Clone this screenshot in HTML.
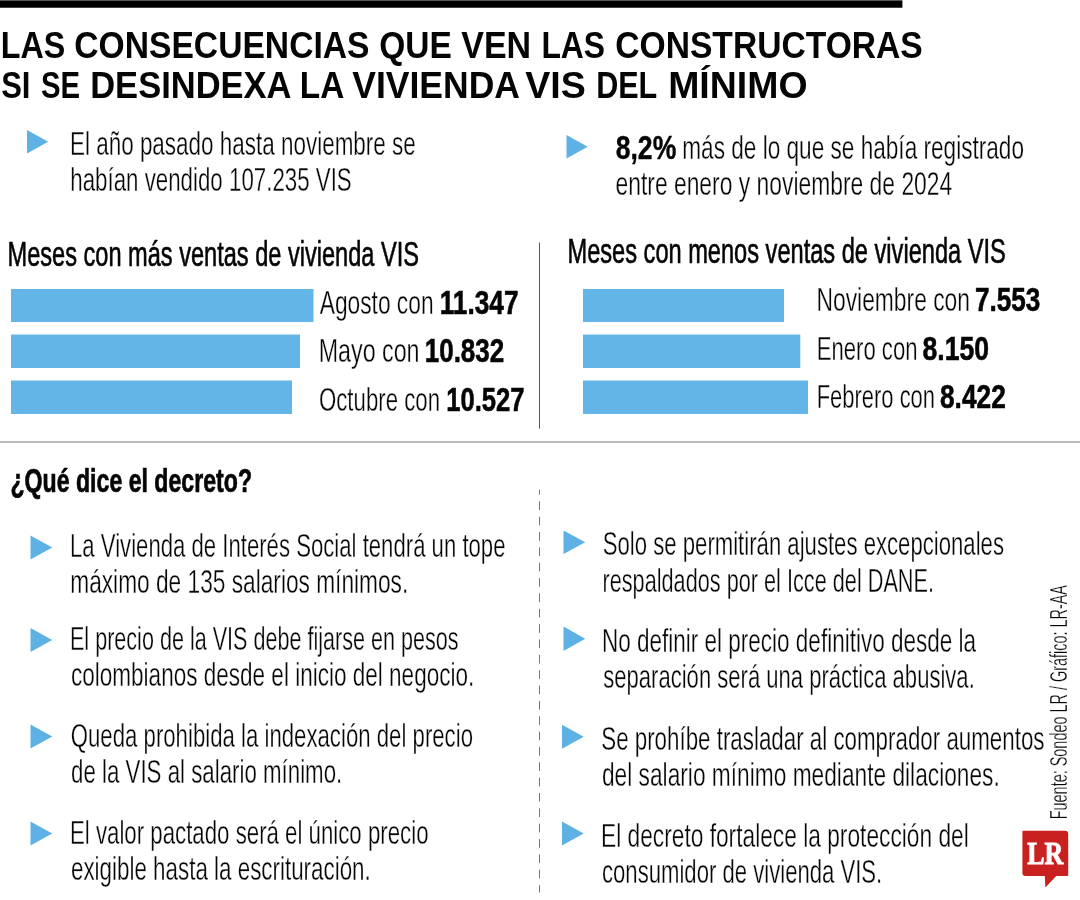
<!DOCTYPE html>
<html lang="es">
<head>
<meta charset="utf-8">
<title>Las consecuencias que ven las constructoras si se desindexa la vivienda VIS del mínimo</title>
<style>
html,body{margin:0;padding:0;background:#fff;}
body{width:1080px;height:900px;overflow:hidden;}
svg{display:block;}
text{font-family:"Liberation Sans",sans-serif;fill:#050505;}
.b{font-weight:700;}
.logo{font-family:"Liberation Serif",serif;font-weight:700;fill:#fff;}
</style>
</head>
<body>
<svg width="1080" height="900" viewBox="0 0 1080 900">
<rect width="1080" height="900" fill="#fff"/>
<rect x="0" y="0.35" width="902.4" height="7.4" fill="#000"/>
<rect x="11" y="289" width="302.5" height="33" fill="#62b5e6"/>
<rect x="11" y="334.5" width="289" height="33.5" fill="#62b5e6"/>
<rect x="11" y="380.5" width="281" height="33.5" fill="#62b5e6"/>
<rect x="583" y="289" width="201" height="33" fill="#62b5e6"/>
<rect x="583" y="334.5" width="217.29999999999995" height="33.5" fill="#62b5e6"/>
<rect x="583" y="380.5" width="225" height="33.5" fill="#62b5e6"/>
<line x1="0" y1="442" x2="1080" y2="442" stroke="#bcbcbc" stroke-width="2"/>
<line x1="539.5" y1="242.5" x2="539.5" y2="428.5" stroke="#555" stroke-width="1"/>
<line x1="539.5" y1="489.7" x2="539.5" y2="892.5" stroke="#666" stroke-width="0.9" stroke-dasharray="8.7 6.65" stroke-dashoffset="3.7"/>
<path d="M27 130L48.2 141.75L27 153.5Z" fill="#5db1e4"/>
<path d="M566.5 135L587.7 146.75L566.5 158.5Z" fill="#5db1e4"/>
<path d="M30.5 535.5L52.2 547.5L30.5 559.5Z" fill="#5db1e4"/>
<path d="M30.5 628L52.2 640.0L30.5 652Z" fill="#5db1e4"/>
<path d="M30.5 724.5L52.2 736.5L30.5 748.5Z" fill="#5db1e4"/>
<path d="M30.5 821.5L52.2 833.5L30.5 845.5Z" fill="#5db1e4"/>
<path d="M563.5 530.5L585.2 542.25L563.5 554Z" fill="#5db1e4"/>
<path d="M563.5 626.5L585.2 638.75L563.5 651Z" fill="#5db1e4"/>
<path d="M562 724.8L583.7 736.8L562 748.8Z" fill="#5db1e4"/>
<path d="M562 821.5L583.7 833.5L562 845.5Z" fill="#5db1e4"/>
<text class="b" x="0.87" y="58.1" font-size="37.3" textLength="64.45" lengthAdjust="spacingAndGlyphs">LAS</text>
<text class="b" x="74.24" y="58.1" font-size="37.3" textLength="295.27" lengthAdjust="spacingAndGlyphs">CONSECUENCIAS</text>
<text class="b" x="379.2" y="58.1" font-size="37.3" textLength="72.6" lengthAdjust="spacingAndGlyphs">QUE</text>
<text class="b" x="461.24" y="58.1" font-size="37.3" textLength="69.85" lengthAdjust="spacingAndGlyphs">VEN</text>
<text class="b" x="541.38" y="58.1" font-size="37.3" textLength="63.69" lengthAdjust="spacingAndGlyphs">LAS</text>
<text class="b" x="615.24" y="58.1" font-size="37.3" textLength="307.53" lengthAdjust="spacingAndGlyphs">CONSTRUCTORAS</text>
<text class="b" x="1.16" y="98" font-size="37.3" textLength="29.32" lengthAdjust="spacingAndGlyphs">SI</text>
<text class="b" x="40.95" y="98" font-size="37.3" textLength="39.1" lengthAdjust="spacingAndGlyphs">SE</text>
<text class="b" x="90.21" y="98" font-size="37.3" textLength="201.3" lengthAdjust="spacingAndGlyphs">DESINDEXA</text>
<text class="b" x="299.85" y="98" font-size="37.3" textLength="44.46" lengthAdjust="spacingAndGlyphs">LA</text>
<text class="b" x="352.25" y="98" font-size="37.3" textLength="167.76" lengthAdjust="spacingAndGlyphs">VIVIENDA</text>
<text class="b" x="525.24" y="98" font-size="37.3" textLength="60.56" lengthAdjust="spacingAndGlyphs">VIS</text>
<text class="b" x="596.15" y="98" font-size="37.3" textLength="61.15" lengthAdjust="spacingAndGlyphs">DEL</text>
<text class="b" x="668.18" y="98" font-size="37.3" textLength="139.36" lengthAdjust="spacingAndGlyphs">MÍNIMO</text>
<text x="69.98" y="154.6" font-size="33.0" textLength="345.78" lengthAdjust="spacingAndGlyphs" stroke="#fff" stroke-width="0.35">El año pasado hasta noviembre se</text>
<text x="70.23" y="190.6" font-size="33.0" textLength="281.53" lengthAdjust="spacingAndGlyphs" stroke="#fff" stroke-width="0.35">habían vendido 107.235 VIS</text>
<text class="b" x="615.73" y="158.9" font-size="34.0" textLength="60.53" lengthAdjust="spacingAndGlyphs" stroke="#050505" stroke-width="0.4">8,2%</text>
<text x="682.24" y="158.9" font-size="34.0" textLength="341.77" lengthAdjust="spacingAndGlyphs" stroke="#fff" stroke-width="0.35">más de lo que se había registrado</text>
<text x="615.49" y="194.9" font-size="34.0" textLength="336.76" lengthAdjust="spacingAndGlyphs" stroke="#fff" stroke-width="0.35">entre enero y noviembre de 2024</text>
<text x="7.49" y="265.5" font-size="34.5" textLength="411.52" lengthAdjust="spacingAndGlyphs" stroke="#050505" stroke-width="0.65">Meses con más ventas de vivienda VIS</text>
<text x="567.49" y="263" font-size="34.5" textLength="438.27" lengthAdjust="spacingAndGlyphs" stroke="#050505" stroke-width="0.65">Meses con menos ventas de vivienda VIS</text>
<text x="319.75" y="314.3" font-size="34.0" textLength="113.78" lengthAdjust="spacingAndGlyphs" stroke="#fff" stroke-width="0.35">Agosto con</text>
<text class="b" x="439.7" y="314.3" font-size="34.0" textLength="78.83" lengthAdjust="spacingAndGlyphs" stroke="#050505" stroke-width="0.6">11.347</text>
<text x="318.68" y="362.4" font-size="34.0" textLength="100.88" lengthAdjust="spacingAndGlyphs" stroke="#fff" stroke-width="0.35">Mayo con</text>
<text class="b" x="424.72" y="362.4" font-size="34.0" textLength="79.55" lengthAdjust="spacingAndGlyphs" stroke="#050505" stroke-width="0.6">10.832</text>
<text x="318.98" y="411.3" font-size="34.0" textLength="121.06" lengthAdjust="spacingAndGlyphs" stroke="#fff" stroke-width="0.35">Octubre con</text>
<text class="b" x="446.21" y="411.3" font-size="34.0" textLength="78.31" lengthAdjust="spacingAndGlyphs" stroke="#050505" stroke-width="0.6">10.527</text>
<text x="816.45" y="311.3" font-size="34.0" textLength="153.58" lengthAdjust="spacingAndGlyphs" stroke="#fff" stroke-width="0.35">Noviembre con</text>
<text class="b" x="974.98" y="311.3" font-size="34.0" textLength="65.29" lengthAdjust="spacingAndGlyphs" stroke="#050505" stroke-width="0.6">7.553</text>
<text x="816.68" y="359.6" font-size="34.0" textLength="100.87" lengthAdjust="spacingAndGlyphs" stroke="#fff" stroke-width="0.35">Enero con</text>
<text class="b" x="922.49" y="359.6" font-size="34.0" textLength="66.53" lengthAdjust="spacingAndGlyphs" stroke="#050505" stroke-width="0.6">8.150</text>
<text x="816.69" y="408.4" font-size="34.0" textLength="118.35" lengthAdjust="spacingAndGlyphs" stroke="#fff" stroke-width="0.35">Febrero con</text>
<text class="b" x="939.99" y="408.4" font-size="34.0" textLength="65.77" lengthAdjust="spacingAndGlyphs" stroke="#050505" stroke-width="0.6">8.422</text>
<text class="b" x="10.49" y="491.7" font-size="32.5" textLength="241.52" lengthAdjust="spacingAndGlyphs" stroke="#050505" stroke-width="0.7">¿Qué dice el decreto?</text>
<text x="69.99" y="556.5" font-size="34.0" textLength="435.52" lengthAdjust="spacingAndGlyphs" stroke="#fff" stroke-width="0.35">La Vivienda de Interés Social tendrá un tope</text>
<text x="70.23" y="592.5" font-size="34.0" textLength="338.05" lengthAdjust="spacingAndGlyphs" stroke="#fff" stroke-width="0.35">máximo de 135 salarios mínimos.</text>
<text x="69.98" y="649.8" font-size="34.0" textLength="388.52" lengthAdjust="spacingAndGlyphs" stroke="#fff" stroke-width="0.35">El precio de la VIS debe fijarse en pesos</text>
<text x="70.99" y="686.3" font-size="34.0" textLength="403.28" lengthAdjust="spacingAndGlyphs" stroke="#fff" stroke-width="0.35">colombianos desde el inicio del negocio.</text>
<text x="70.74" y="746.9" font-size="34.0" textLength="402.26" lengthAdjust="spacingAndGlyphs" stroke="#fff" stroke-width="0.35">Queda prohibida la indexación del precio</text>
<text x="70.99" y="783.1" font-size="34.0" textLength="271.29" lengthAdjust="spacingAndGlyphs" stroke="#fff" stroke-width="0.35">de la VIS al salario mínimo.</text>
<text x="69.98" y="843.6" font-size="34.0" textLength="358.53" lengthAdjust="spacingAndGlyphs" stroke="#fff" stroke-width="0.35">El valor pactado será el único precio</text>
<text x="70.99" y="880.1" font-size="34.0" textLength="299.79" lengthAdjust="spacingAndGlyphs" stroke="#fff" stroke-width="0.35">exigible hasta la escrituración.</text>
<text x="602.74" y="555" font-size="34.0" textLength="401.26" lengthAdjust="spacingAndGlyphs" stroke="#fff" stroke-width="0.35">Solo se permitirán ajustes excepcionales</text>
<text x="602.48" y="592" font-size="34.0" textLength="331.54" lengthAdjust="spacingAndGlyphs" stroke="#fff" stroke-width="0.35">respaldados por el Icce del DANE.</text>
<text x="601.99" y="652" font-size="34.0" textLength="374.01" lengthAdjust="spacingAndGlyphs" stroke="#fff" stroke-width="0.35">No definir el precio definitivo desde la</text>
<text x="603.24" y="688" font-size="34.0" textLength="371.52" lengthAdjust="spacingAndGlyphs" stroke="#fff" stroke-width="0.35">separación será una práctica abusiva.</text>
<text x="601.24" y="750" font-size="34.0" textLength="443.26" lengthAdjust="spacingAndGlyphs" stroke="#fff" stroke-width="0.35">Se prohíbe trasladar al comprador aumentos</text>
<text x="601.99" y="786" font-size="34.0" textLength="397.78" lengthAdjust="spacingAndGlyphs" stroke="#fff" stroke-width="0.35">del salario mínimo mediante dilaciones.</text>
<text x="600.98" y="847" font-size="34.0" textLength="367.79" lengthAdjust="spacingAndGlyphs" stroke="#fff" stroke-width="0.35">El decreto fortalece la protección del</text>
<text x="601.99" y="883" font-size="34.0" textLength="280.29" lengthAdjust="spacingAndGlyphs" stroke="#fff" stroke-width="0.35">consumidor de vivienda VIS.</text>
<text transform="translate(1067.3 819.26) rotate(-90)" x="0" y="0" stroke="#fff" stroke-width="0.3" font-size="23.5" textLength="234.26" lengthAdjust="spacingAndGlyphs">Fuente: Sondeo LR / Gráfico: LR-AA</text>
<path d="M1023.5 830.8H1065.2Q1068.2 830.8 1068.2 833.8V875.1Q1068.2 876.1 1067.2 876.1H1056.2L1045.4 887.6L1044.8 876.1H1025.4Q1022.4 876.1 1022.4 873.1V831.8Q1022.4 830.8 1023.5 830.8Z" fill="#c9211f"/>
<text class="logo" x="1027.3" y="864" font-size="31" textLength="36" lengthAdjust="spacingAndGlyphs" stroke="#fff" stroke-width="0.9">LR</text>
</svg>
</body>
</html>
